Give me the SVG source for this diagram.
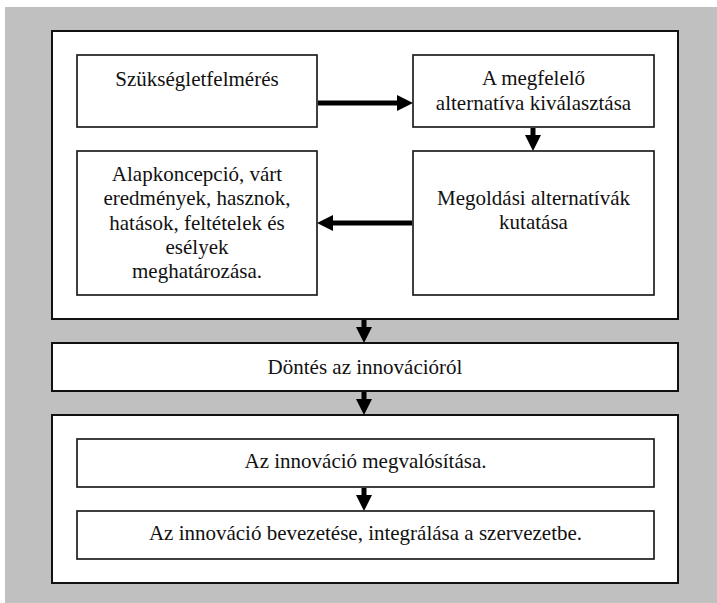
<svg xmlns="http://www.w3.org/2000/svg" width="717" height="603" viewBox="0 0 717 603">
<style>
.bg{fill:#c0c0c0}
.outer{fill:#fff;stroke:#111;stroke-width:2}
.box{fill:#fff;stroke:#111;stroke-width:1.6}
.t{font-family:"Liberation Serif","Times New Roman",serif;font-size:21px;fill:#111;text-anchor:middle}
.shaft{stroke:#000;stroke-width:5;fill:none}
.head{fill:#000}
</style>
<rect class="bg" x="5" y="7" width="712" height="596"/>
<g id="group-top"><rect class="outer" x="52" y="31" width="626" height="288"/></g>
<g id="group-bottom"><rect class="outer" x="52" y="415" width="626" height="168"/></g>
<g id="n-szukseglet">
<rect class="box" x="77" y="55" width="240" height="72"/>
<text class="t" x="197" y="86">Szükségletfelmérés</text>
</g>
<g id="n-megfelelo">
<rect class="box" x="413" y="55" width="241" height="72"/>
<text class="t" x="533.5" y="85">A megfelelő</text>
<text class="t" x="533.5" y="110">alternatíva kiválasztása</text>
</g>
<g id="n-megoldasi">
<rect class="box" x="413" y="151" width="241" height="144"/>
<text class="t" x="533.5" y="205">Megoldási alternatívák</text>
<text class="t" x="533.5" y="229">kutatása</text>
</g>
<g id="n-alapkoncepcio">
<rect class="box" x="77" y="151" width="240" height="144"/>
<text class="t" x="197" y="181">Alapkoncepció, várt</text>
<text class="t" x="197" y="205">eredmények, hasznok,</text>
<text class="t" x="197" y="230">hatások, feltételek és</text>
<text class="t" x="197" y="254">esélyek</text>
<text class="t" x="197" y="278">meghatározása.</text>
</g>
<g id="n-dontes">
<rect class="outer" x="52" y="343" width="626" height="48"/>
<text class="t" x="365" y="374">Döntés az innovációról</text>
</g>
<g id="n-megvalositas">
<rect class="box" x="77" y="439" width="577" height="48"/>
<text class="t" x="365.5" y="468">Az innováció megvalósítása.</text>
</g>
<g id="n-bevezetes">
<rect class="box" x="77" y="511" width="577" height="48"/>
<text class="t" x="365.5" y="540">Az innováció bevezetése, integrálása a szervezetbe.</text>
</g>
<g id="connectors">
<line class="shaft" x1="318" y1="103" x2="398" y2="103"/>
<polygon class="head" points="397,95 413,103 397,111"/>
<line class="shaft" x1="533" y1="128" x2="533" y2="136"/>
<polygon class="head" points="525,135 533,151 541,135"/>
<line class="shaft" x1="412" y1="223" x2="332" y2="223"/>
<polygon class="head" points="333,215 317,223 333,231"/>
<line class="shaft" x1="364" y1="320" x2="364" y2="328"/>
<polygon class="head" points="356,327 364,343 372,327"/>
<line class="shaft" x1="364" y1="392" x2="364" y2="400"/>
<polygon class="head" points="356,399 364,415 372,399"/>
<line class="shaft" x1="364" y1="488" x2="364" y2="496"/>
<polygon class="head" points="356,495 364,511 372,495"/>
</g>
</svg>
